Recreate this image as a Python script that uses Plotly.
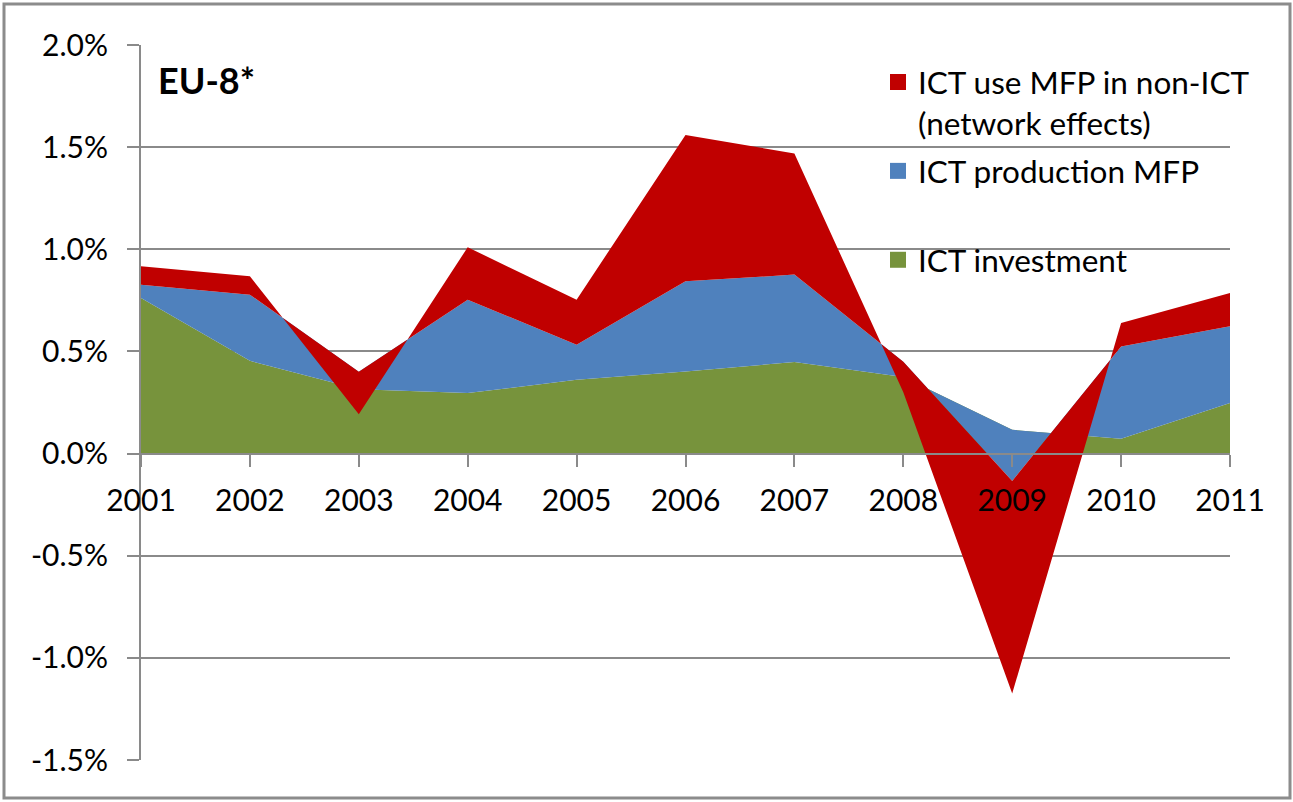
import plotly.graph_objects as go

years = [2001, 2002, 2003, 2004, 2005, 2006, 2007, 2008, 2009, 2010, 2011]
ict_investment = [0.761, 0.454, 0.315, 0.296, 0.361, 0.402, 0.448, 0.375, 0.116, 0.072, 0.247]
ict_production_mfp = [0.066, 0.324, 0.085, 0.457, 0.172, 0.441, 0.428, 0.075, -0.250, 0.452, 0.376]
ict_use_mfp = [0.090, 0.090, -0.207, 0.257, 0.220, 0.716, 0.593, -0.150, -1.041, 0.115, 0.163]

y_tickvals = [-1.5, -1.0, -0.5, 0.0, 0.5, 1.0, 1.5, 2.0]
y_ticktext = ["-1.5%", "-1.0%", "-0.5%", "0.0%", "0.5%", "1.0%", "1.5%", "2.0%"]

names = ["ICT investment", "ICT production MFP", "ICT use MFP in non-ICT<br>(network effects)"]
legend_names = ["ICT investment", "ICT production MFP<br> ", "ICT use MFP in non-ICT<br>(network effects)"]
colors = ["#77933C", "#4F81BD", "#C00000"]
series = [ict_investment, ict_production_mfp, ict_use_mfp]

FONT = "Lato"
fig = go.Figure()
for nm, col, vals in zip(names, colors, series):
    fig.add_trace(go.Scatter(
        x=years, y=vals, name=nm, stackgroup="one", mode="lines",
        line=dict(width=0, color=col), fillcolor=col, showlegend=False,
    ))

# legend entries (square swatches)
for rank, (nm, col) in enumerate(zip(legend_names[::-1], colors[::-1])):
    fig.add_trace(go.Scatter(
        x=[None], y=[None], mode="markers", name=nm,
        marker=dict(symbol="square", size=16, color=col),
        legendrank=rank + 1, legendgroup="g%d" % rank,
    ))

ymin, ymax = -1.5, 2.0
fig.update_layout(
    width=1293, height=802,
    margin=dict(l=141, r=63, t=45, b=42),
    paper_bgcolor="white", plot_bgcolor="white",
    font=dict(family=FONT, size=30, color="#000000"),
    xaxis=dict(
        range=[2001, 2011], tickvals=years, ticktext=[str(y) for y in years],
        anchor="free", position=(0 - ymin) / (ymax - ymin), side="bottom",
        showline=True, linecolor="#8a8a8a", linewidth=2,
        ticks="outside", ticklen=12, tickwidth=2, tickcolor="#8a8a8a",
        showgrid=False, zeroline=False, ticklabelstandoff=8,
        tickfont=dict(family=FONT, size=30),
    ),
    yaxis=dict(
        range=[ymin, ymax], tickvals=y_tickvals, ticktext=y_ticktext,
        showline=True, linecolor="#8a8a8a", linewidth=2,
        ticks="outside", ticklen=12, tickwidth=2, tickcolor="#8a8a8a",
        showgrid=True, gridcolor="#8a8a8a", gridwidth=1.5, zeroline=False,
        ticklabelstandoff=13, tickfont=dict(family=FONT, size=30),
    ),
    legend=dict(
        x=(878 - 141) / 1089, y=(760 - 55) / 715, xanchor="left", yanchor="top",
        bgcolor="rgba(0,0,0,0)", traceorder="grouped", tracegroupgap=4,
        valign="top", font=dict(family=FONT, size=31.5),
    ),
    showlegend=True,
)

fig.add_annotation(
    text="<b>EU-8*</b>", xref="paper", yref="paper",
    x=(156 - 141) / 1089, y=(760 - 80) / 715, xanchor="left", yanchor="middle",
    showarrow=False, font=dict(family=FONT, size=36, color="#000000"),
)

# outer chart border
fig.add_shape(
    type="rect", xref="paper", yref="paper",
    x0=(4 - 141) / 1089, x1=(1290 - 141) / 1089,
    y0=(760 - 798) / 715, y1=(760 - 4) / 715,
    line=dict(color="#8c8c8c", width=3), fillcolor="rgba(0,0,0,0)", layer="above",
)

fig.write_html("out.html", config={"displayModeBar": False},
               post_script="document.body.style.margin='0';")
